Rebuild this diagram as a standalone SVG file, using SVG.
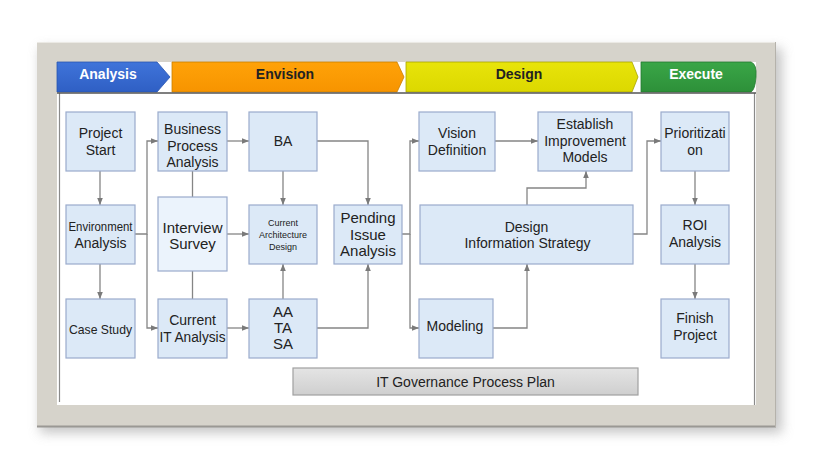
<svg xmlns="http://www.w3.org/2000/svg" width="814" height="467" viewBox="0 0 814 467">
<defs>
<style>
.node rect{fill:#dce9f7;stroke:#9aabcc;stroke-width:1.2}
.node text{font-family:"Liberation Sans",Arial,sans-serif;font-size:14px;fill:#222;text-anchor:middle}
.conn path{fill:none;stroke:#858585;stroke-width:1.3}
.conn path.a{marker-end:url(#arr)}
.ban text{font-family:"Liberation Sans",Arial,sans-serif;font-size:14px;font-weight:bold;text-anchor:middle}
</style>
<marker id="arr" viewBox="0 0 10 10" refX="10" refY="5" markerUnits="userSpaceOnUse" markerWidth="7" markerHeight="7" orient="auto">
<path d="M0,1 L10,5 L0,9 z" fill="#7a7a7a"/>
</marker>
<filter id="sh" x="-10%" y="-10%" width="120%" height="130%">
<feGaussianBlur stdDeviation="6"/>
</filter>
<linearGradient id="gBlue" x1="0" y1="0" x2="0" y2="1"><stop offset="0" stop-color="#3f74da"/><stop offset="1" stop-color="#2f5fc4"/></linearGradient>
<linearGradient id="gOr" x1="0" y1="0" x2="0" y2="1"><stop offset="0" stop-color="#ffa208"/><stop offset="1" stop-color="#f79400"/></linearGradient>
<linearGradient id="gYe" x1="0" y1="0" x2="0" y2="1"><stop offset="0" stop-color="#e8e40a"/><stop offset="1" stop-color="#dcd800"/></linearGradient>
<linearGradient id="gGr" x1="0" y1="0" x2="0" y2="1"><stop offset="0" stop-color="#3aa647"/><stop offset="1" stop-color="#2d9039"/></linearGradient>
<linearGradient id="gGray" x1="0" y1="0" x2="0" y2="1"><stop offset="0" stop-color="#e4e4e4"/><stop offset="1" stop-color="#cfcfcf"/></linearGradient>
</defs>
<rect width="814" height="467" fill="#ffffff"/>
<!-- frame -->
<rect x="40" y="48" width="742" height="385" fill="#b8b8b8" filter="url(#sh)" opacity="0.8"/>
<rect x="37" y="42" width="739" height="385" fill="#d6d3cb"/>
<line x1="37" y1="42.5" x2="776" y2="42.5" stroke="#ebe9e4" stroke-width="1"/>
<line x1="37" y1="426.5" x2="776" y2="426.5" stroke="#9a9894" stroke-width="2"/>
<line x1="775.5" y1="42" x2="775.5" y2="427" stroke="#b5b2ab" stroke-width="1"/>
<rect x="57" y="62" width="699" height="343" fill="#ffffff"/>
<line x1="59.5" y1="93" x2="59.5" y2="402" stroke="#8a8a8a" stroke-width="1.2"/>
<line x1="754.5" y1="93" x2="754.5" y2="405" stroke="#8a8a8a" stroke-width="1.2"/>
<!-- banner -->
<g id="banner" class="ban">
<polygon points="57,62 157,62 170,77 157,92 57,92" fill="url(#gBlue)" stroke="#2a55b0" stroke-width="0.8"/>
<text x="108" y="79" fill="#ffffff">Analysis</text>
<polygon points="172,62 397,62 404,77 397,92 172,92" fill="url(#gOr)" stroke="#c98200" stroke-width="0.8"/>
<text x="285" y="79" fill="#222">Envision</text>
<polygon points="406,62 632,62 638,77 632,92 406,92" fill="url(#gYe)" stroke="#a8a400" stroke-width="0.8"/>
<text x="519" y="79" fill="#222">Design</text>
<path d="M641,62 H751 Q757,64 756,77 Q755,90 751,92 H641 Z" fill="url(#gGr)" stroke="#257a30" stroke-width="0.8"/>
<text x="696" y="79" fill="#ffffff">Execute</text>
<line x1="57" y1="93" x2="756" y2="93" stroke="#555" stroke-width="1.5"/>
</g>
<!-- connectors -->
<g id="connectors" class="conn">
<path class="a" d="M100,171 V205"/>
<path class="a" d="M100,264 V299"/>
<path class="a" d="M135,234 H147 V141 H158"/>
<path class="a" d="M147,234 V328 H158"/>
<path d="M192.5,171 V197"/>
<path d="M192.5,271 V299"/>
<path class="a" d="M227,141 H249"/>
<path class="a" d="M283,171 V205"/>
<path class="a" d="M317,141 H368 V205"/>
<path class="a" d="M227,234 H249"/>
<path class="a" d="M227,328 H249"/>
<path class="a" d="M283,299 V264"/>
<path class="a" d="M317,328 H368 V264"/>
<path class="a" d="M402,234 H410 V141 H419"/>
<path class="a" d="M410,234 V328 H419"/>
<path class="a" d="M495,141 H538"/>
<path class="a" d="M527,205 V188 H586 V171"/>
<path class="a" d="M493,328 H527 V264"/>
<path class="a" d="M633,234 H647 V141 H661"/>
<path class="a" d="M695,171 V205"/>
<path class="a" d="M695,264 V299"/>
</g>
<!-- nodes -->
<g id="project-start" class="node"><rect x="66" y="112" width="69" height="59"/><text x="100.5" y="138">Project</text><text x="100.5" y="155">Start</text></g>
<g id="environment-analysis" class="node"><rect x="66" y="205" width="69" height="59"/><text x="100.5" y="231" style="font-size:12px" textLength="64" lengthAdjust="spacingAndGlyphs">Environment</text><text x="100.5" y="248">Analysis</text></g>
<g id="case-study" class="node"><rect x="66" y="299" width="69" height="59"/><text x="100.5" y="334" style="font-size:13px" textLength="63" lengthAdjust="spacingAndGlyphs">Case Study</text></g>
<g id="business-process-analysis" class="node"><rect x="158" y="112" width="69" height="59"/><text x="192.5" y="134">Business</text><text x="192.5" y="151">Process</text><text x="192.5" y="167">Analysis</text></g>
<g id="interview-survey" class="node"><rect x="158" y="197" width="69" height="74" style="fill:#ebf3fc"/><text x="192.5" y="233" style="font-size:15px">Interview</text><text x="192.5" y="249" style="font-size:15px">Survey</text></g>
<g id="current-it-analysis" class="node"><rect x="158" y="299" width="69" height="59"/><text x="192.5" y="325">Current</text><text x="192.5" y="342" textLength="66" lengthAdjust="spacingAndGlyphs">IT Analysis</text></g>
<g id="ba" class="node"><rect x="249" y="112" width="68" height="59"/><text x="283" y="146">BA</text></g>
<g id="current-architecture-design" class="node"><rect x="249" y="205" width="68" height="59"/><text x="283" y="225.5" style="font-size:9px">Current</text><text x="283" y="237.5" style="font-size:9px">Architecture</text><text x="283" y="250" style="font-size:9px">Design</text></g>
<g id="aa-ta-sa" class="node"><rect x="249" y="299" width="68" height="59"/><text x="283" y="317" style="font-size:15px">AA</text><text x="283" y="333" style="font-size:15px">TA</text><text x="283" y="349" style="font-size:15px">SA</text></g>
<g id="pending-issue-analysis" class="node"><rect x="334" y="205" width="68" height="59"/><text x="368" y="223" style="font-size:15px">Pending</text><text x="368" y="240" style="font-size:15px">Issue</text><text x="368" y="256" style="font-size:15px">Analysis</text></g>
<g id="vision-definition" class="node"><rect x="419" y="112" width="76" height="59"/><text x="457" y="138">Vision</text><text x="457" y="155">Definition</text></g>
<g id="establish-improvement-models" class="node"><rect x="538" y="112" width="94" height="59"/><text x="585" y="129">Establish</text><text x="585" y="146">Improvement</text><text x="585" y="162">Models</text></g>
<g id="design-information-strategy" class="node"><rect x="420" y="205" width="213" height="59"/><text x="526.5" y="232">Design</text><text x="527.5" y="248">Information Strategy</text></g>
<g id="modeling" class="node"><rect x="419" y="299" width="74" height="59"/><text x="455" y="331">Modeling</text></g>
<g id="prioritization" class="node"><rect x="661" y="112" width="68" height="59"/><text x="695" y="138">Prioritizati</text><text x="695" y="155">on</text></g>
<g id="roi-analysis" class="node"><rect x="661" y="205" width="68" height="59"/><text x="695" y="230">ROI</text><text x="695" y="247">Analysis</text></g>
<g id="finish-project" class="node"><rect x="661" y="299" width="68" height="59"/><text x="695" y="323">Finish</text><text x="695" y="340">Project</text></g>
<g id="it-governance-process-plan" class="node"><rect x="293" y="368" width="345" height="27" style="fill:url(#gGray);stroke:#a0a0a0"/><text x="465.5" y="387">IT Governance Process Plan</text></g>
</svg>
